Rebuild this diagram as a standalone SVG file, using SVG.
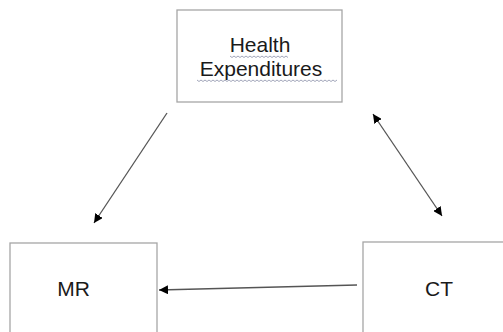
<svg xmlns="http://www.w3.org/2000/svg" width="503" height="332" viewBox="0 0 503 332">
<style>
.box{fill:#fff;stroke:#a6a6a6;stroke-width:1.3}
.lbl{font-family:"Liberation Sans",Arial,sans-serif;font-size:21px;fill:#1a1a1a;text-anchor:middle}
.edge{stroke:#555;stroke-width:1.3;fill:none}
.sq{stroke:#8a8fa8;stroke-width:0.8;fill:none}
</style>
<defs>
<marker id="ah" viewBox="0 0 10 10" refX="10" refY="5" markerWidth="9" markerHeight="9" markerUnits="userSpaceOnUse" orient="auto-start-reverse">
<path d="M0,0 L10,5 L0,10 z" fill="#000"/>
</marker>
</defs>
<rect width="503" height="332" fill="#fff"/>
<g id="node-health">
<rect class="box" x="177" y="10" width="165" height="92"/>
<text class="lbl" x="260" y="52">Health</text>
<text class="lbl" x="261" y="76">Expenditures</text>
<path class="sq" d="M230,56 l2,1.5 l2,-1.5 l2,1.5 l2,-1.5 l2,1.5 l2,-1.5 l2,1.5 l2,-1.5 l2,1.5 l2,-1.5 l2,1.5 l2,-1.5 l2,1.5 l2,-1.5 l2,1.5 l2,-1.5 l2,1.5 l2,-1.5 l2,1.5 l2,-1.5 l2,1.5 l2,-1.5 l2,1.5 l2,-1.5 l2,1.5 l2,-1.5 l2,1.5 l2,-1.5 l2,1.5"/>
<path class="sq" d="M197,80 l2,1.5 l2,-1.5 l2,1.5 l2,-1.5 l2,1.5 l2,-1.5 l2,1.5 l2,-1.5 l2,1.5 l2,-1.5 l2,1.5 l2,-1.5 l2,1.5 l2,-1.5 l2,1.5 l2,-1.5 l2,1.5 l2,-1.5 l2,1.5 l2,-1.5 l2,1.5 l2,-1.5 l2,1.5 l2,-1.5 l2,1.5 l2,-1.5 l2,1.5 l2,-1.5 l2,1.5 l2,-1.5 l2,1.5 l2,-1.5 l2,1.5 l2,-1.5 l2,1.5 l2,-1.5 l2,1.5 l2,-1.5 l2,1.5 l2,-1.5 l2,1.5 l2,-1.5 l2,1.5 l2,-1.5 l2,1.5 l2,-1.5 l2,1.5 l2,-1.5 l2,1.5 l2,-1.5 l2,1.5 l2,-1.5 l2,1.5 l2,-1.5 l2,1.5 l2,-1.5 l2,1.5 l2,-1.5 l2,1.5 l2,-1.5 l2,1.5 l2,-1.5 l2,1.5 l2,-1.5 l2,1.5 l2,-1.5 l2,1.5 l2,-1.5 l2,1.5 l2,-1.5"/>
</g>
<g id="node-mr">
<rect class="box" x="10" y="243" width="147" height="100"/>
<text class="lbl" x="73.5" y="296">MR</text>
</g>
<g id="node-ct">
<rect class="box" x="363" y="242" width="150" height="100"/>
<text class="lbl" x="439" y="296">CT</text>
</g>
<g id="connectors">
<line class="edge" x1="167" y1="113" x2="94" y2="223" marker-end="url(#ah)"/>
<line class="edge" x1="373" y1="114" x2="442" y2="216" marker-start="url(#ah)" marker-end="url(#ah)"/>
<line class="edge" x1="357" y1="285" x2="159" y2="290" marker-end="url(#ah)"/>
</g>
</svg>
